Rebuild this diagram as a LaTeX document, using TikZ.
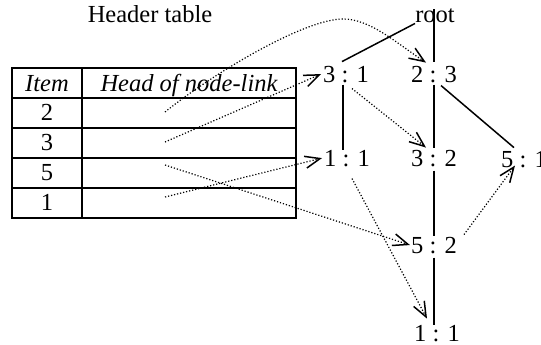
\documentclass[tikz,border=0pt]{standalone}
\usepackage{fontspec}
\setmainfont{Liberation Serif}
\usetikzlibrary{arrows.meta}
\begin{document}
\begin{tikzpicture}[x=1pt,y=-1pt,
  big/.style={font=\fontsize{24.5}{28}\selectfont, inner sep=0pt, anchor=base},
  lbl/.style={font=\fontsize{24.5}{28}\selectfont, inner sep=0pt, anchor=base},
  edge/.style={line width=1.5pt},
  grid/.style={line width=1.3pt},
  ptr/.style={line width=1.2pt, dash pattern=on 1.2pt off 1.9pt,
    -{Straight Barb[length=15pt,width=12pt,line width=1.5pt]}}]
\useasboundingbox (0,0) rectangle (541,345);

% header table
\node[big] (hdr) at (150,23) {Header table};
\draw[grid] (12,68) rectangle (296,218);
\draw[grid] (82,68) -- (82,218);
\foreach \yy in {98,128,158,188} \draw[grid] (12,\yy) -- (296,\yy);
\node[big] (item) at (47,92) {\itshape Item};
\node[big] (headcol) at (189,92) {\itshape Head of node-link};
\node[big] (r2) at (47,120) {2};
\node[big] (r3) at (47,150) {3};
\node[big] (r5) at (47,180) {5};
\node[big] (r1) at (47,210) {1};
\coordinate (p2) at (165,112);
\coordinate (p3) at (165,142);
\coordinate (p5) at (165,165);
\coordinate (p1) at (165,197);

% FP-tree
\node[lbl] (root) at (435,23) {root};
\node[lbl] (n31) at (346,82) {3 : 1};
\node[lbl] (n23) at (434,82) {2 : 3};
\node[lbl] (n11) at (347,166) {1 : 1};
\node[lbl] (n32) at (434,166) {3 : 2};
\node[lbl] (n51) at (524,167) {5 : 1};
\node[lbl] (n52) at (434,253) {5 : 2};
\node[lbl] (n11b) at (437,341) {1 : 1};

% tree edges
\draw[edge] (root.south west) -- ([shift={(-4pt,4pt)}]n31.north);
\draw[edge] (n23.north |- root.north) -- ([yshift=4pt]n23.north);
\draw[edge] ([shift={(-3pt,-2pt)}]n31.south) -- ([shift={(-4pt,0pt)}]n11.north);
\draw[edge] ([yshift=-2pt]n23.south) -- ([yshift=2pt]n32.north);
\draw[edge] ([shift={(7pt,-3pt)}]n23.south) -- ([shift={(-10pt,3pt)}]n51.north);
\draw[edge] ([yshift=-4pt]n32.south) -- ([yshift=1pt]n52.north);
\draw[edge] ([yshift=-4pt]n52.south) -- (n52.south |- n11b.north);

% node-links
\draw[ptr] (p2) .. controls (215,72) and (305,19) .. (343,19)
  .. controls (370,19) and (395,42) .. ([shift={(-8pt,3pt)}]n23.north);
\draw[ptr] (p3) -- ([xshift=-2pt]n31.west);
\draw[ptr] (p1) -- ([xshift=-2pt]n11.west);
\draw[ptr] (p5) -- ([xshift=-1pt]n52.west);
\draw[ptr] ([shift={(6pt,-6pt)}]n31.south) -- ([shift={(-8pt,2pt)}]n32.north);
\draw[ptr] ([shift={(5pt,-12pt)}]n11.south) -- ([shift={(-10pt,6pt)}]n11b.north);
\draw[ptr] ([shift={(7pt,2pt)}]n52.north east) -- ([shift={(-9pt,2pt)}]n51.south);
\end{tikzpicture}
\end{document}
